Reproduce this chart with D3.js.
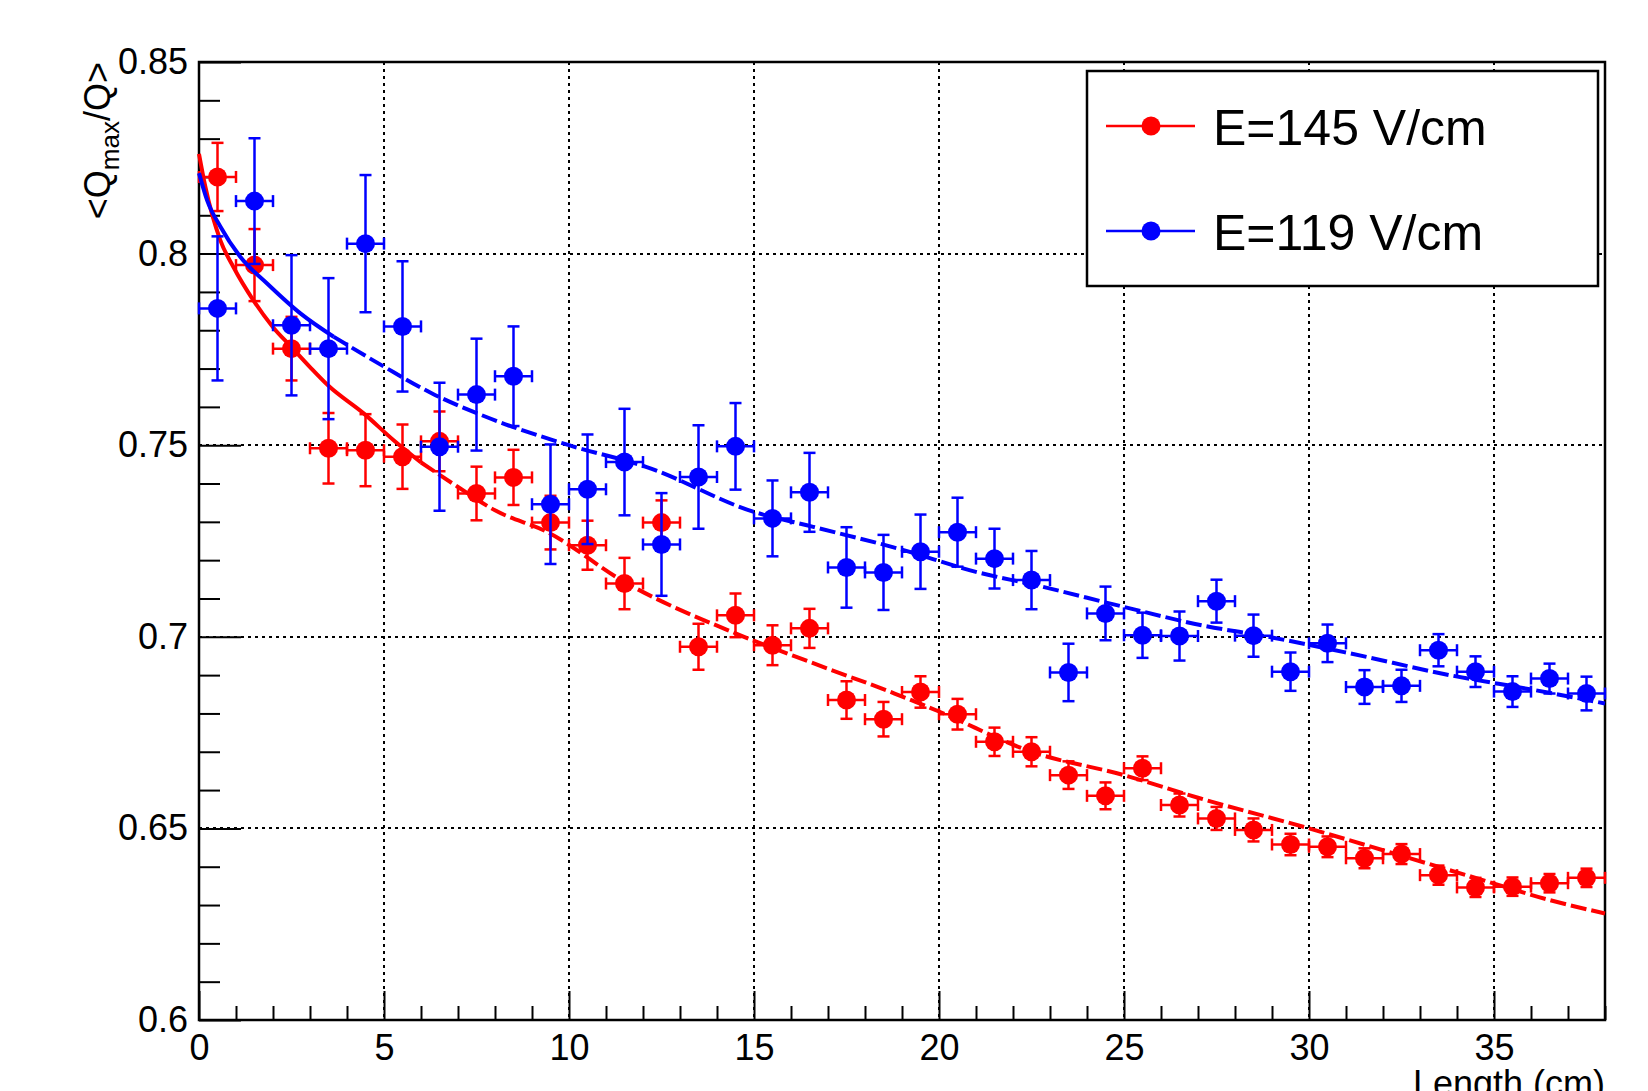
<!DOCTYPE html>
<html>
<head>
<meta charset="utf-8">
<script src="https://cdn.jsdelivr.net/npm/d3@7"></script>
<style>
  body { margin: 0; background: #fff; }
  svg { display: block; font-family: "Liberation Sans", Arial, sans-serif; }
</style>
</head>
<body>
<svg id="chart" width="1648" height="1091"></svg>
<script>
// bin centres (cm), same for both field values
const lengths = [0.5,1.5,2.5,3.5,4.5,5.5,6.5,7.5,8.5,9.5,10.5,11.5,12.5,13.5,14.5,15.5,16.5,17.5,18.5,19.5,
  20.5,21.5,22.5,23.5,24.5,25.5,26.5,27.5,28.5,29.5,30.5,31.5,32.5,33.5,34.5,35.5,36.5,37.5];
const binHalfWidth = 0.5;

// E=145 V/cm
const red145 = [0.820,0.797,0.7752,0.7492,0.7487,0.747,0.751,0.7374,0.7416,0.7298,0.7239,0.7139,0.7298,0.6974,
  0.7056,0.6978,0.7022,0.6835,0.6785,0.6856,0.6798,0.6726,0.670,0.6639,0.6585,0.6657,0.6561,0.6526,0.6496,
  0.6458,0.6452,0.6422,0.6433,0.6378,0.6346,0.6348,0.6357,0.6371];
const red145Err = [0.0089,0.0094,0.0083,0.0092,0.0094,0.0084,0.0078,0.007,0.0072,0.007,0.0064,0.0067,0.0058,0.006,
  0.0057,0.0052,0.0051,0.0049,0.0045,0.0041,0.004,0.0037,0.0038,0.0036,0.0035,0.0031,0.003,0.003,0.003,
  0.0028,0.0027,0.0026,0.0026,0.0025,0.0025,0.0024,0.0024,0.0024];

// E=119 V/cm
const blue119 = [0.7857,0.8137,0.7813,0.7752,0.8026,0.781,0.7496,0.7632,0.768,0.7346,0.7385,0.7456,0.7241,0.7417,
  0.7497,0.7309,0.7377,0.7181,0.7168,0.7222,0.7273,0.7204,0.7148,0.6907,0.7061,0.7004,0.7002,0.7093,0.7003,
  0.6909,0.6983,0.6869,0.6872,0.6965,0.6909,0.6857,0.6891,0.6852];
const blue119Err = [0.0188,0.0164,0.0183,0.0184,0.0179,0.017,0.0167,0.0146,0.013,0.0156,0.0143,0.0139,0.0134,0.0135,
  0.0113,0.0099,0.0103,0.0105,0.0098,0.0097,0.009,0.0078,0.0076,0.0075,0.007,0.0059,0.0064,0.0056,0.0055,
  0.005,0.0049,0.0044,0.0042,0.0042,0.004,0.004,0.0039,0.0044];

// fit curves
const redFitX = [0,0.17,0.58,0.93,1.47,2.0,2.5,3.0,3.5,4.45,5.26,6.0,7.0,8.0,9.4,11.5,14.5,16.6,18.8,20.0,
  22.5,25.0,27.0,30.0,32.0,34.7,36.5,38.0];
const redFitY = [0.826,0.8175,0.8034,0.7965,0.7878,0.7808,0.7756,0.7704,0.7655,0.7583,0.7513,0.7455,0.7391,0.7330,
  0.7274,0.7143,0.7009,0.6931,0.6852,0.6805,0.6700,0.6639,0.6580,0.6500,0.6443,0.6365,0.6313,0.6278];
const blueFitX = [0,0.22,0.58,1.12,1.84,2.74,3.64,5.0,6.3,7.6,10.0,12.1,15.0,16.6,18.9,21.1,22.6,25.0,27.1,
  28.9,31.1,33.8,36.1,38.0];
const blueFitY = [0.821,0.8139,0.807,0.7991,0.7922,0.7844,0.7783,0.7705,0.7635,0.758,0.750,0.7443,0.7326,0.7287,
  0.723,0.7167,0.7135,0.7078,0.703,0.700,0.6957,0.690,0.6861,0.6826];

const xMajor = [0,5,10,15,20,25,30,35];
const xTickLabels = ["0","5","10","15","20","25","30","35"];
const yMajor = [0.6,0.65,0.7,0.75,0.8,0.85];
const yTickLabels = ["0.6","0.65","0.7","0.75","0.8","0.85"];
const legendLabels = ["E=145 V/cm","E=119 V/cm"];

const series = [
  { color: "#ff0000", y: red145, err: red145Err, fx: redFitX, fy: redFitY, solidTo: 5.3 },
  { color: "#0000ff", y: blue119, err: blue119Err, fx: blueFitX, fy: blueFitY, solidTo: 3.0 }
];

const padLeft = 199, padRight = 1605, padTop = 62, padBottom = 1020;
const svg = d3.select("#chart");

const x = d3.scaleLinear().domain([0, 38]).range([padLeft, padRight]);
const y = d3.scaleLinear().domain([0.6, 0.85]).range([padBottom, padTop]);

// grid (dotted, snapped to whole pixels so it stays dark)
const grid = svg.append("g").attr("stroke", "#000").attr("stroke-width", 2).attr("stroke-dasharray", "3,4");
grid.selectAll(".gx").data(xMajor.filter(d => d > 0))
  .join("line").attr("x1", d => Math.round(x(d))).attr("x2", d => Math.round(x(d)))
  .attr("y1", padTop).attr("y2", padBottom);
grid.selectAll(".gy").data(yMajor.filter(d => d > 0.6 && d < 0.85))
  .join("line").attr("y1", d => Math.round(y(d))).attr("y2", d => Math.round(y(d)))
  .attr("x1", padLeft).attr("x2", padRight);

// axes: major + minor ticks pointing into the frame
const xMinor = d3.range(0, 39, 1).filter(d => !xMajor.includes(d));
const yMinor = d3.range(60, 86, 1).map(d => d / 100).filter(d => !yMajor.some(m => Math.abs(m - d) < 1e-6));

const xAxis = svg.append("g").attr("transform", `translate(0,${padBottom})`)
  .call(d3.axisBottom(x).tickValues(xMajor).tickSize(-29).tickPadding(14)
    .tickFormat((d, i) => xTickLabels[i]));
svg.append("g").attr("transform", `translate(0,${padBottom})`)
  .call(d3.axisBottom(x).tickValues(xMinor).tickSize(-14).tickFormat(""))
  .call(g => g.select(".domain").remove());

const yAxis = svg.append("g").attr("transform", `translate(${padLeft},0)`)
  .call(d3.axisLeft(y).tickValues(yMajor).tickSize(-42).tickPadding(11)
    .tickFormat((d, i) => yTickLabels[i]));
svg.append("g").attr("transform", `translate(${padLeft},0)`)
  .call(d3.axisLeft(y).tickValues(yMinor).tickSize(-21).tickFormat(""))
  .call(g => g.select(".domain").remove());

svg.selectAll(".tick line").attr("stroke", "#000").attr("stroke-width", 2);
svg.selectAll(".domain").remove();
svg.selectAll(".tick text").attr("font-size", 36).attr("fill", "#000")
  .attr("font-family", "Liberation Sans, Arial, sans-serif");
xAxis.selectAll(".tick text").attr("dy", "0.71em");

// frame
svg.append("rect").attr("x", padLeft).attr("y", padTop)
  .attr("width", padRight - padLeft).attr("height", padBottom - padTop)
  .attr("fill", "none").attr("stroke", "#000").attr("stroke-width", 2.5);

// axis titles (x title is clipped by the canvas edge, as in the original)
svg.append("text").attr("x", padRight).attr("y", 1096).attr("text-anchor", "end")
  .attr("font-size", 36).text("Length (cm)");

const ytitle = svg.append("text").attr("transform", `translate(110,${padTop}) rotate(-90)`)
  .attr("text-anchor", "end").attr("font-size", 36);
ytitle.append("tspan").text("<Q");
ytitle.append("tspan").attr("font-size", 26).attr("dy", 9).text("max");
ytitle.append("tspan").attr("dy", -9).text("/Q>");

// data
const fitLine = d3.line().x(d => x(d[0])).y(d => y(d[1])).curve(d3.curveMonotoneX);

series.forEach(s => {
  const g = svg.append("g").attr("stroke", s.color).attr("fill", s.color);
  const pts = lengths.map((l, i) => ({ l, v: s.y[i], e: s.err[i] }));

  // vertical error bars with caps
  g.selectAll(".ev").data(pts).join("line")
    .attr("x1", d => x(d.l)).attr("x2", d => x(d.l))
    .attr("y1", d => y(d.v - d.e)).attr("y2", d => y(d.v + d.e)).attr("stroke-width", 2.5);
  g.selectAll(".cap").data(pts.flatMap(d => [d.v - d.e, d.v + d.e].map(v => ({ l: d.l, v }))))
    .join("line")
    .attr("x1", d => x(d.l) - 6).attr("x2", d => x(d.l) + 6)
    .attr("y1", d => y(d.v)).attr("y2", d => y(d.v)).attr("stroke-width", 2.5);
  // horizontal bin-width bars
  g.selectAll(".eh").data(pts).join("line")
    .attr("x1", d => x(d.l - binHalfWidth)).attr("x2", d => x(d.l + binHalfWidth))
    .attr("y1", d => y(d.v)).attr("y2", d => y(d.v)).attr("stroke-width", 2.5);
  g.selectAll(".hcap").data(pts.flatMap(d => [d.l - binHalfWidth, d.l + binHalfWidth].map(l => ({ l, v: d.v }))))
    .join("line")
    .attr("x1", d => x(d.l)).attr("x2", d => x(d.l))
    .attr("y1", d => y(d.v) - 6).attr("y2", d => y(d.v) + 6).attr("stroke-width", 2.5);
  g.selectAll("circle").data(pts).join("circle")
    .attr("cx", d => x(d.l)).attr("cy", d => y(d.v)).attr("r", 9.5).attr("stroke", "none");

  // fit: solid in the steep part, dashed afterwards
  const fit = s.fx.map((v, i) => [v, s.fy[i]]);
  const cut = fit.findIndex(d => d[0] >= s.solidTo);
  svg.append("path").datum(fit.slice(0, cut + 1)).attr("d", fitLine)
    .attr("fill", "none").attr("stroke", s.color).attr("stroke-width", 4);
  svg.append("path").datum(fit.slice(cut)).attr("d", fitLine)
    .attr("fill", "none").attr("stroke", s.color).attr("stroke-width", 4)
    .attr("stroke-dasharray", "16,5");
});

// legend
const legend = svg.append("g");
legend.append("rect").attr("x", 1087).attr("y", 71).attr("width", 511).attr("height", 215)
  .attr("fill", "#fff").attr("stroke", "#000").attr("stroke-width", 2.5);
const rowY = [126, 231];
series.forEach((s, i) => {
  legend.append("line").attr("x1", 1106).attr("x2", 1195).attr("y1", rowY[i]).attr("y2", rowY[i])
    .attr("stroke", s.color).attr("stroke-width", 2.5);
  legend.append("circle").attr("cx", 1151).attr("cy", rowY[i]).attr("r", 9.5).attr("fill", s.color);
  legend.append("text").attr("x", 1213).attr("y", rowY[i] + 19).attr("font-size", 50)
    .attr("fill", "#000").text(legendLabels[i]);
});
</script>
</body>
</html>
